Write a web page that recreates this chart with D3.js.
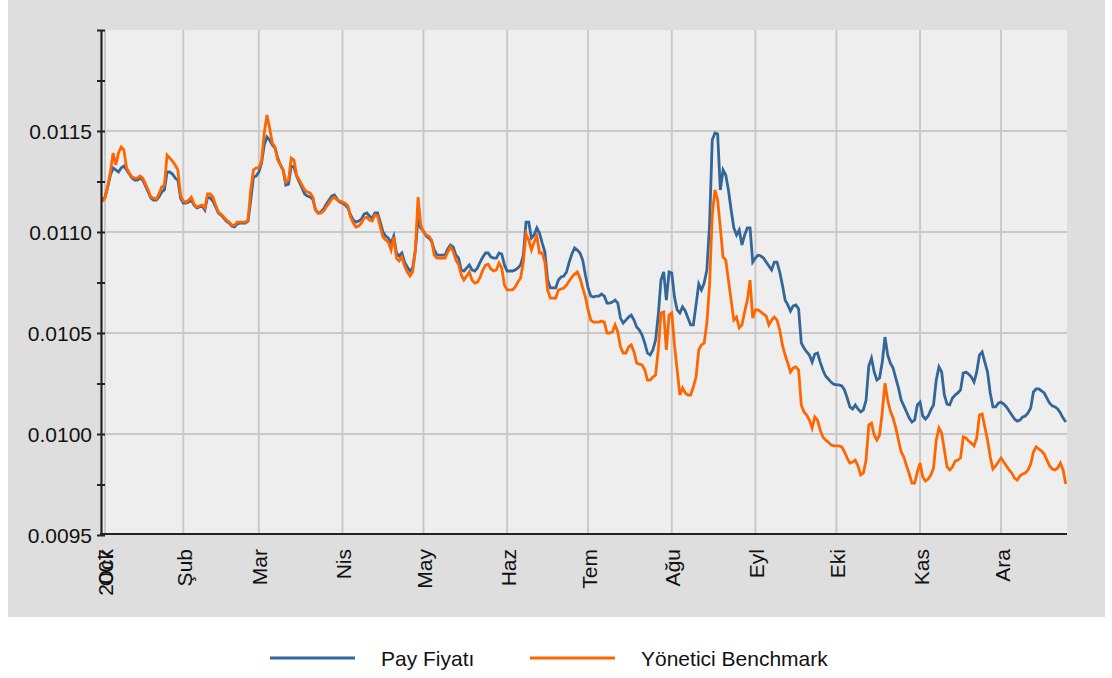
<!DOCTYPE html>
<html>
<head>
<meta charset="utf-8">
<script src="https://d3js.org/d3.v7.min.js"></script>
<style>
  body { margin: 0; background: #ffffff; }
  text { font-family: "Liberation Sans", Arial, sans-serif; fill: #111; }
</style>
</head>
<body>
<svg width="1112" height="678"></svg>
<script>
// one value per calendar day, 2 Jan 2007 .. 25 Dec 2007
var firstDay = [2007, 0, 2];
var yearLabel = "2007";
var monthLabels = ["Ock", "Şub", "Mar", "Nis", "May", "Haz", "Tem", "Ağu", "Eyl", "Eki", "Kas", "Ara"];
var monthStarts = ["2007-01-03", "2007-02-01", "2007-03-01", "2007-04-01", "2007-05-01", "2007-06-01",
                   "2007-07-01", "2007-08-01", "2007-09-01", "2007-10-01", "2007-11-01", "2007-12-01"];
var yLabelTicks = [0.0095, 0.0100, 0.0105, 0.0110, 0.0115];
var yMinorTicks = [0.0095, 0.00975, 0.0100, 0.01025, 0.0105, 0.01075, 0.0110, 0.01125, 0.0115, 0.01175, 0.0120];
var seriesNames = ["Pay Fiyatı", "Yönetici Benchmark"];

var payFiyati = [
 0.011158,0.011173,0.011223,0.011282,0.011317,0.011307,0.011297,0.011317,0.011327,0.011307,
 0.011287,0.011267,0.011257,0.011257,0.011267,0.011257,0.011228,0.011198,0.011168,0.011158,
 0.011158,0.011173,0.011198,0.011208,0.011297,0.011297,0.011287,0.011267,0.011257,0.011168,
 0.011143,0.011143,0.011148,0.011158,0.011133,0.011119,0.011124,0.011129,0.011109,0.011173,
 0.011168,0.011153,0.011124,0.011094,0.011084,0.011069,0.011054,0.011044,0.011030,0.011025,
 0.011040,0.011044,0.011044,0.011044,0.011054,0.011158,0.011272,0.011277,0.011297,0.011341,
 0.011431,0.011470,0.011455,0.011431,0.011416,0.011366,0.011332,0.011307,0.011232,0.011237,
 0.011327,0.011322,0.011277,0.011247,0.011218,0.011188,0.011178,0.011173,0.011163,0.011109,
 0.011094,0.011099,0.011114,0.011138,0.011158,0.011178,0.011183,0.011163,0.011148,0.011143,
 0.011133,0.011119,0.011084,0.011059,0.011049,0.011054,0.011064,0.011089,0.011094,0.011079,
 0.011069,0.011094,0.011094,0.011049,0.011000,0.010980,0.010970,0.010945,0.010980,0.010896,
 0.010881,0.010896,0.010851,0.010827,0.010807,0.010822,0.010911,0.011069,0.011020,0.011005,
 0.010980,0.010970,0.010955,0.010911,0.010886,0.010886,0.010886,0.010886,0.010916,0.010936,
 0.010926,0.010886,0.010871,0.010812,0.010807,0.010822,0.010837,0.010812,0.010807,0.010822,
 0.010851,0.010876,0.010896,0.010896,0.010876,0.010871,0.010871,0.010896,0.010891,0.010837,
 0.010807,0.010807,0.010807,0.010812,0.010822,0.010837,0.010886,0.011049,0.011049,0.010970,
 0.010985,0.011020,0.010995,0.010945,0.010901,0.010762,0.010723,0.010723,0.010723,0.010762,
 0.010777,0.010782,0.010802,0.010851,0.010891,0.010921,0.010911,0.010896,0.010861,0.010787,
 0.010723,0.010683,0.010678,0.010683,0.010683,0.010693,0.010683,0.010648,0.010648,0.010653,
 0.010663,0.010648,0.010574,0.010549,0.010564,0.010579,0.010589,0.010564,0.010530,0.010515,
 0.010490,0.010450,0.010401,0.010391,0.010416,0.010465,0.010589,0.010762,0.010802,0.010663,
 0.010802,0.010797,0.010678,0.010614,0.010599,0.010629,0.010609,0.010574,0.010540,0.010540,
 0.010639,0.010742,0.010713,0.010747,0.010812,0.011035,0.011455,0.011490,0.011485,0.011208,
 0.011307,0.011282,0.011208,0.011109,0.011020,0.010985,0.011010,0.010936,0.010985,0.011020,
 0.011020,0.010851,0.010871,0.010886,0.010881,0.010871,0.010851,0.010832,0.010812,0.010851,
 0.010851,0.010802,0.010737,0.010663,0.010639,0.010609,0.010634,0.010639,0.010619,0.010450,
 0.010426,0.010406,0.010391,0.010356,0.010396,0.010401,0.010356,0.010317,0.010287,0.010272,
 0.010257,0.010247,0.010243,0.010243,0.010238,0.010218,0.010178,0.010134,0.010124,0.010144,
 0.010124,0.010109,0.010119,0.010168,0.010337,0.010376,0.010307,0.010267,0.010277,0.010356,
 0.010480,0.010391,0.010351,0.010327,0.010277,0.010228,0.010168,0.010139,0.010109,0.010079,
 0.010059,0.010069,0.010144,0.010158,0.010089,0.010074,0.010089,0.010119,0.010144,0.010267,
 0.010332,0.010307,0.010193,0.010148,0.010144,0.010178,0.010193,0.010203,0.010218,0.010302,
 0.010307,0.010297,0.010282,0.010257,0.010307,0.010391,0.010406,0.010356,0.010307,0.010203,
 0.010134,0.010134,0.010153,0.010158,0.010148,0.010134,0.010114,0.010094,0.010074,0.010064,
 0.010069,0.010084,0.010089,0.010104,0.010129,0.010208,0.010223,0.010223,0.010213,0.010203,
 0.010178,0.010153,0.010139,0.010134,0.010124,0.010104,0.010079,0.010059
];

var benchmark = [
 0.011150,0.011168,0.011223,0.011297,0.011391,0.011332,0.011391,0.011421,0.011406,0.011317,
 0.011292,0.011272,0.011267,0.011267,0.011277,0.011267,0.011237,0.011208,0.011173,0.011168,
 0.011163,0.011188,0.011223,0.011232,0.011381,0.011366,0.011351,0.011332,0.011307,0.011183,
 0.011153,0.011148,0.011158,0.011173,0.011138,0.011124,0.011129,0.011133,0.011119,0.011188,
 0.011188,0.011173,0.011133,0.011099,0.011089,0.011074,0.011059,0.011049,0.011034,0.011034,
 0.011049,0.011049,0.011049,0.011049,0.011059,0.011208,0.011307,0.011317,0.011317,0.011351,
 0.011490,0.011579,0.011515,0.011440,0.011421,0.011356,0.011332,0.011307,0.011247,0.011257,
 0.011366,0.011356,0.011282,0.011257,0.011232,0.011208,0.011198,0.011193,0.011173,0.011109,
 0.011094,0.011094,0.011104,0.011124,0.011143,0.011163,0.011173,0.011158,0.011153,0.011148,
 0.011143,0.011129,0.011074,0.011044,0.011025,0.011030,0.011044,0.011069,0.011074,0.011059,
 0.011054,0.011084,0.011079,0.011025,0.010975,0.010960,0.010950,0.010911,0.010975,0.010871,
 0.010856,0.010876,0.010832,0.010802,0.010782,0.010802,0.010911,0.011173,0.011035,0.011000,
 0.010985,0.010980,0.010960,0.010886,0.010871,0.010871,0.010871,0.010871,0.010901,0.010926,
 0.010906,0.010861,0.010841,0.010787,0.010762,0.010782,0.010802,0.010762,0.010747,0.010752,
 0.010777,0.010812,0.010836,0.010841,0.010817,0.010807,0.010812,0.010846,0.010822,0.010737,
 0.010713,0.010713,0.010713,0.010728,0.010752,0.010772,0.010851,0.010990,0.010960,0.010911,
 0.010950,0.010980,0.010896,0.010896,0.010851,0.010713,0.010673,0.010673,0.010673,0.010713,
 0.010718,0.010723,0.010737,0.010757,0.010777,0.010792,0.010802,0.010772,0.010723,0.010678,
 0.010614,0.010564,0.010554,0.010554,0.010554,0.010559,0.010554,0.010500,0.010500,0.010505,
 0.010540,0.010505,0.010431,0.010401,0.010401,0.010431,0.010441,0.010406,0.010351,0.010346,
 0.010342,0.010317,0.010267,0.010267,0.010282,0.010292,0.010416,0.010599,0.010604,0.010416,
 0.010589,0.010599,0.010441,0.010317,0.010193,0.010228,0.010203,0.010193,0.010193,0.010233,
 0.010282,0.010416,0.010441,0.010450,0.010549,0.010737,0.011084,0.011208,0.011158,0.011020,
 0.010876,0.010861,0.010762,0.010663,0.010564,0.010579,0.010525,0.010540,0.010604,0.010663,
 0.010762,0.010574,0.010614,0.010614,0.010604,0.010594,0.010584,0.010540,0.010564,0.010579,
 0.010564,0.010515,0.010441,0.010391,0.010351,0.010307,0.010327,0.010332,0.010317,0.010144,
 0.010109,0.010094,0.010069,0.010030,0.010084,0.010069,0.010020,0.009985,0.009970,0.009960,
 0.009946,0.009941,0.009941,0.009941,0.009936,0.009911,0.009881,0.009856,0.009861,0.009871,
 0.009842,0.009797,0.009807,0.009871,0.010045,0.010054,0.009995,0.009970,0.009995,0.010109,
 0.010252,0.010168,0.010114,0.010079,0.010030,0.009970,0.009911,0.009886,0.009842,0.009802,
 0.009757,0.009757,0.009812,0.009856,0.009787,0.009767,0.009777,0.009797,0.009832,0.009970,
 0.010030,0.010005,0.009921,0.009837,0.009822,0.009837,0.009866,0.009871,0.009881,0.009985,
 0.009980,0.009965,0.009955,0.009941,0.009980,0.010094,0.010099,0.010035,0.009970,0.009886,
 0.009827,0.009842,0.009861,0.009881,0.009861,0.009842,0.009822,0.009807,0.009782,0.009772,
 0.009792,0.009802,0.009807,0.009822,0.009851,0.009911,0.009936,0.009926,0.009916,0.009901,
 0.009871,0.009842,0.009827,0.009822,0.009832,0.009856,0.009822,0.009752
];

var colors = ["#336699", "#ff6600"];

var svg = d3.select("svg");
var plotLeft = 101, plotRight = 1067, plotTop = 30, plotBottom = 535;

// gray panel and plot background
svg.append("rect").attr("x", 8).attr("y", 0).attr("width", 1097).attr("height", 617).attr("fill", "#dedede");
svg.append("rect").attr("x", plotLeft).attr("y", plotTop)
   .attr("width", plotRight - plotLeft).attr("height", plotBottom - plotTop).attr("fill", "#eeeeee");

var x = d3.scaleTime().domain([new Date(2007, 0, 1), new Date(2007, 11, 25)]).range([99.6, 1065.8]);
var y = d3.scaleLinear().domain([0.0095, 0.0120]).range([plotBottom, plotTop]);

var parse = d3.timeParse("%Y-%m-%d");
var tickDates = monthStarts.map(parse);

// grid
var grid = svg.append("g").attr("stroke", "#c9c9c9").attr("stroke-width", 2);
grid.selectAll(".h").data(yLabelTicks.slice(1)).enter().append("line")
    .attr("x1", plotLeft).attr("x2", plotRight)
    .attr("y1", function(d) { return y(d); }).attr("y2", function(d) { return y(d); });
grid.selectAll(".v").data(tickDates).enter().append("line")
    .attr("x1", function(d) { return x(d); }).attr("x2", function(d) { return x(d); })
    .attr("y1", plotTop).attr("y2", plotBottom);

// series
svg.append("clipPath").attr("id", "clip").append("rect")
   .attr("x", plotLeft).attr("y", plotTop).attr("width", plotRight - plotLeft).attr("height", plotBottom - plotTop);

function dateOf(i) { return new Date(firstDay[0], firstDay[1], firstDay[2] + i); }
var line = d3.line().x(function(d, i) { return x(dateOf(i)); }).y(function(d) { return y(d); });

[payFiyati, benchmark].forEach(function(s, k) {
  svg.append("path").datum(s)
     .attr("clip-path", "url(#clip)")
     .attr("fill", "none").attr("stroke", colors[k]).attr("stroke-width", 2.8)
     .attr("stroke-linejoin", "miter")
     .attr("d", line);
});

// y axis
var yAxis = d3.axisLeft(y).tickValues(yMinorTicks).tickSizeInner(4).tickSizeOuter(0).tickPadding(5)
  .tickFormat(function(d) {
    var lab = yLabelTicks.find(function(t) { return Math.abs(t - d) < 1e-9; });
    return lab === undefined ? "" : d3.format(".4f")(d);
  });
var gy = svg.append("g").attr("transform", "translate(" + plotLeft + ",0)").call(yAxis);
gy.select(".domain").attr("stroke", "#222").attr("stroke-width", 2.2);
gy.selectAll(".tick line").attr("x1", -4).attr("x2", 4).attr("stroke", "#222").attr("stroke-width", 2);
gy.selectAll(".tick text").attr("font-size", 21).attr("x", -9).attr("dy", "0.36em")
  .attr("font-family", "Liberation Sans, Arial, sans-serif").attr("fill", "#111");

// x axis
var xAxis = d3.axisBottom(x).tickValues(tickDates).tickSize(0)
  .tickFormat(function(d, i) { return monthLabels[i]; });
var gx = svg.append("g").attr("transform", "translate(0," + (plotBottom - 1) + ")").call(xAxis);
gx.select(".domain").attr("d", "M" + (plotLeft - 1) + ",0H" + plotRight)
  .attr("stroke", "#222").attr("stroke-width", 2.2);
gx.selectAll(".tick text").attr("font-size", 21).attr("transform", "rotate(-90)")
  .attr("text-anchor", "end").attr("x", -15).attr("y", 8).attr("dy", 0)
  .attr("font-family", "Liberation Sans, Arial, sans-serif").attr("fill", "#111");
gx.select(".tick").append("text").text(yearLabel)
  .attr("font-size", 21).attr("transform", "rotate(-90)")
  .attr("text-anchor", "end").attr("x", -15).attr("y", 8).attr("fill", "#111");

// legend
var legend = svg.append("g");
var legX = [270, 530];
seriesNames.forEach(function(name, k) {
  legend.append("line").attr("x1", legX[k]).attr("x2", legX[k] + 85)
        .attr("y1", 658).attr("y2", 658).attr("stroke", colors[k]).attr("stroke-width", 3);
  legend.append("text").attr("x", legX[k] + 111).attr("y", 666)
        .attr("font-size", 21).text(name);
});
</script>
</body>
</html>
